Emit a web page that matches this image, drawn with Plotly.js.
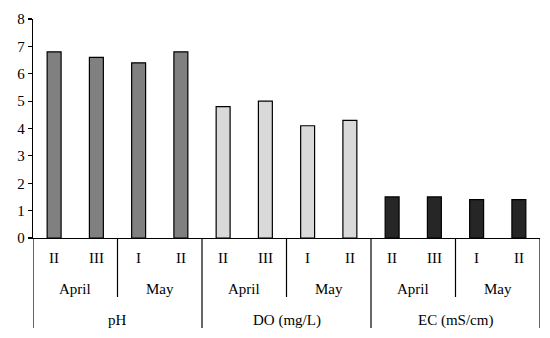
<!DOCTYPE html>
<html>
<head>
<meta charset="utf-8">
<script src="https://cdn.plot.ly/plotly-3.0.1.min.js"></script>
<style>html,body{margin:0;padding:0;background:#fff;}#chart{width:550px;height:338px;}</style>
</head>
<body>
<div id="chart"></div>
<script>
// Data
const parameters = ["pH", "DO (mg/L)", "EC (mS/cm)"];
const months = ["April", "May"];
const samplings = [["II", "III"], ["I", "II"]];
const phValues = [6.8, 6.6, 6.4, 6.8];
const doValues = [4.8, 5.0, 4.1, 4.3];
const ecValues = [1.5, 1.5, 1.4, 1.4];
const barColors = ["#808080", "#d9d9d9", "#262626"];
const yTicks = [0, 1, 2, 3, 4, 5, 6, 7, 8];

const seriesValues = [phValues, doValues, ecValues];
const FONT = "Liberation Serif, Times New Roman, serif";

const traces = [];
const annotations = [];
const shapes = [];
let idx = 0;
const plotH = 338 - 19 - 100;
const px = p => -p / plotH;

parameters.forEach((param, g) => {
  const xs = [];
  const ys = [];
  const groupStart = idx;
  months.forEach((m, mi) => {
    const monthStart = idx;
    samplings[mi].forEach((s, si) => {
      xs.push(idx);
      ys.push(seriesValues[g][mi * 2 + si]);
      annotations.push({x: idx, y: 0, xref: 'x', yref: 'paper', text: s, showarrow: false, yshift: -20, yanchor: 'middle'});
      idx++;
    });
    annotations.push({x: (monthStart + idx - 1) / 2, y: 0, xref: 'x', yref: 'paper', text: m, showarrow: false, yshift: -51, yanchor: 'middle'});
    if (mi < months.length - 1) {
      shapes.push({type: 'line', xref: 'x', yref: 'paper', x0: idx - 0.5, x1: idx - 0.5, y0: 0, y1: px(59), line: {color: '#000', width: 1.2}});
    }
  });
  annotations.push({x: (groupStart + idx - 1) / 2, y: 0, xref: 'x', yref: 'paper', text: param, showarrow: false, yshift: -82, yanchor: 'middle'});
  shapes.push({type: 'line', xref: 'x', yref: 'paper', x0: groupStart - 0.5, x1: groupStart - 0.5, y0: 0, y1: px(90), line: {color: '#000', width: 1.2}});
  traces.push({
    type: 'bar', x: xs, y: ys, width: 0.33,
    marker: {color: barColors[g], line: {color: '#000', width: 1.2}},
    hoverinfo: 'none'
  });
});
shapes.push({type: 'line', xref: 'x', yref: 'paper', x0: idx - 0.5, x1: idx - 0.5, y0: 0, y1: px(90), line: {color: '#000', width: 1.2}});

const layout = {
  width: 550, height: 338,
  margin: {l: 33, r: 10, t: 19, b: 100},
  paper_bgcolor: '#fff', plot_bgcolor: '#fff',
  showlegend: false,
  font: {family: FONT, size: 15, color: '#000'},
  xaxis: {range: [-0.5, idx - 0.5], showticklabels: false, ticks: '', showgrid: false, zeroline: false,
          showline: true, linecolor: '#000', linewidth: 1.2, fixedrange: true},
  yaxis: {range: [0, 8], tickvals: yTicks, ticks: 'outside', ticklen: 4, tickcolor: '#000', tickwidth: 1.2,
          showgrid: false, zeroline: false, showline: true, linecolor: '#000', linewidth: 1.2,
          tickfont: {family: FONT, size: 15}, fixedrange: true},
  annotations: annotations,
  shapes: shapes
};

Plotly.newPlot('chart', traces, layout, {displayModeBar: false, staticPlot: true});
</script>
</body>
</html>
